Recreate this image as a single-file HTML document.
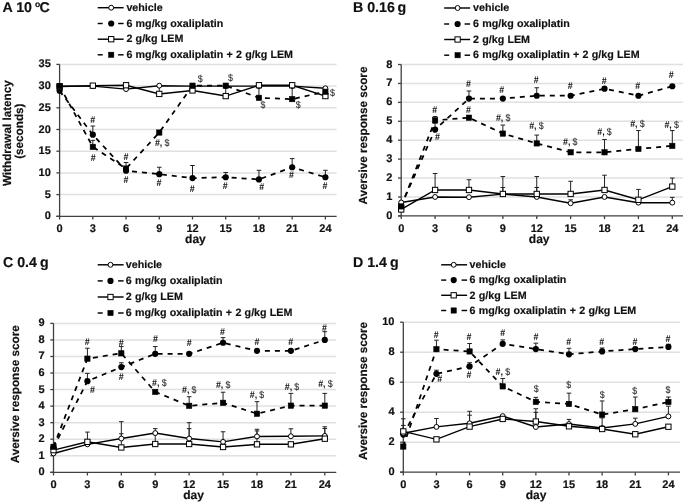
<!DOCTYPE html>
<html><head><meta charset="utf-8"><title>figure</title>
<style>
html,body{margin:0;padding:0;background:#fff;}
body{width:685px;height:504px;overflow:hidden;font-family:"Liberation Sans",sans-serif;}
svg{display:block;will-change:transform;text-rendering:geometricPrecision;}
</style></head>
<body>
<svg width="685" height="504" viewBox="0 0 685 504">
<rect width="685" height="504" fill="#fff"/>
<g stroke="#e0e0e0" stroke-width="1.5"><line x1="59.6" y1="194.6" x2="336.6" y2="194.6"/><line x1="59.6" y1="172.9" x2="336.6" y2="172.9"/><line x1="59.6" y1="151.2" x2="336.6" y2="151.2"/><line x1="59.6" y1="129.5" x2="336.6" y2="129.5"/><line x1="59.6" y1="107.8" x2="336.6" y2="107.8"/><line x1="59.6" y1="86.1" x2="336.6" y2="86.1"/><line x1="59.6" y1="64.4" x2="336.6" y2="64.4"/></g>
<g stroke="#404040" stroke-width="1.3"><line x1="59.6" y1="64.4" x2="59.6" y2="219.5"/><line x1="56.4" y1="216.3" x2="336.6" y2="216.3"/><line x1="56.4" y1="216.3" x2="59.6" y2="216.3"/><line x1="56.4" y1="194.6" x2="59.6" y2="194.6"/><line x1="56.4" y1="172.9" x2="59.6" y2="172.9"/><line x1="56.4" y1="151.2" x2="59.6" y2="151.2"/><line x1="56.4" y1="129.5" x2="59.6" y2="129.5"/><line x1="56.4" y1="107.8" x2="59.6" y2="107.8"/><line x1="56.4" y1="86.1" x2="59.6" y2="86.1"/><line x1="56.4" y1="64.4" x2="59.6" y2="64.4"/><line x1="92.82" y1="216.3" x2="92.82" y2="219.5"/><line x1="126.05" y1="216.3" x2="126.05" y2="219.5"/><line x1="159.27" y1="216.3" x2="159.27" y2="219.5"/><line x1="192.5" y1="216.3" x2="192.5" y2="219.5"/><line x1="225.72" y1="216.3" x2="225.72" y2="219.5"/><line x1="258.95" y1="216.3" x2="258.95" y2="219.5"/><line x1="292.17" y1="216.3" x2="292.17" y2="219.5"/><line x1="325.4" y1="216.3" x2="325.4" y2="219.5"/></g>
<g font-family="Liberation Sans, sans-serif" font-weight="bold" stroke="#111" stroke-width="0.18" font-size="11.0" fill="#111"><text x="50.8" y="219.3" text-anchor="end">0</text><text x="50.8" y="197.6" text-anchor="end">5</text><text x="50.8" y="175.9" text-anchor="end">10</text><text x="50.8" y="154.2" text-anchor="end">15</text><text x="50.8" y="132.5" text-anchor="end">20</text><text x="50.8" y="110.8" text-anchor="end">25</text><text x="50.8" y="89.1" text-anchor="end">30</text><text x="50.8" y="67.4" text-anchor="end">35</text><text x="59.6" y="232.3" text-anchor="middle">0</text><text x="92.82" y="232.3" text-anchor="middle">3</text><text x="126.05" y="232.3" text-anchor="middle">6</text><text x="159.27" y="232.3" text-anchor="middle">9</text><text x="192.5" y="232.3" text-anchor="middle">12</text><text x="225.72" y="232.3" text-anchor="middle">15</text><text x="258.95" y="232.3" text-anchor="middle">18</text><text x="292.17" y="232.3" text-anchor="middle">21</text><text x="325.4" y="232.3" text-anchor="middle">24</text></g>
<text font-family="Liberation Sans, sans-serif" font-weight="bold" stroke="#111" stroke-width="0.18" font-size="12.0" fill="#111" x="195.4" y="243.3" text-anchor="middle">day</text>
<text font-family="Liberation Sans, sans-serif" font-weight="bold" stroke="#111" stroke-width="0.18" font-size="11.7" fill="#111" transform="translate(10.6 133.2) rotate(-90)" text-anchor="middle">Withdrawal latency</text>
<text font-family="Liberation Sans, sans-serif" font-weight="bold" stroke="#111" stroke-width="0.18" font-size="11.7" fill="#111" transform="translate(23.4 131.2) rotate(-90)" text-anchor="middle">(seconds)</text>
<text font-family="Liberation Sans, sans-serif" font-weight="bold" stroke="#111" stroke-width="0.18" font-size="14.2" fill="#111" x="2.5" y="11.8">A 10<tspan font-size="8.6" x="35.1" y="6.6">o</tspan><tspan x="39.4" y="11.8">C</tspan></text>
<g stroke="#222" stroke-width="1"><line x1="159.27" y1="93.91" x2="159.27" y2="85.67"/><line x1="156.97" y1="85.67" x2="161.57" y2="85.67"/><line x1="225.72" y1="96.08" x2="225.72" y2="85.67"/><line x1="223.42" y1="85.67" x2="228.02" y2="85.67"/><line x1="92.82" y1="134.71" x2="92.82" y2="126.03"/><line x1="90.52" y1="126.03" x2="95.12" y2="126.03"/><line x1="126.05" y1="170.73" x2="126.05" y2="162.48"/><line x1="123.75" y1="162.48" x2="128.35" y2="162.48"/><line x1="159.27" y1="174.2" x2="159.27" y2="167.26"/><line x1="156.97" y1="167.26" x2="161.57" y2="167.26"/><line x1="192.5" y1="178.11" x2="192.5" y2="165.52"/><line x1="190.2" y1="165.52" x2="194.8" y2="165.52"/><line x1="225.72" y1="177.24" x2="225.72" y2="172.47"/><line x1="223.42" y1="172.47" x2="228.02" y2="172.47"/><line x1="258.95" y1="179.41" x2="258.95" y2="170.3"/><line x1="256.65" y1="170.3" x2="261.25" y2="170.3"/><line x1="292.17" y1="167.26" x2="292.17" y2="158.58"/><line x1="289.87" y1="158.58" x2="294.47" y2="158.58"/><line x1="325.4" y1="177.24" x2="325.4" y2="170.3"/><line x1="323.1" y1="170.3" x2="327.7" y2="170.3"/><line x1="92.82" y1="146.86" x2="92.82" y2="140.35"/><line x1="90.52" y1="140.35" x2="95.12" y2="140.35"/><line x1="258.95" y1="97.82" x2="258.95" y2="86.1"/><line x1="256.65" y1="86.1" x2="261.25" y2="86.1"/><line x1="292.17" y1="99.12" x2="292.17" y2="86.1"/><line x1="289.87" y1="86.1" x2="294.47" y2="86.1"/></g>
<polyline fill="none" stroke="#000" stroke-width="1.75" stroke-dasharray="5 5" points="59.6,90.87 92.82,134.71 126.05,170.73 159.27,174.2 192.5,178.11 225.72,177.24 258.95,179.41 292.17,167.26 325.4,177.24"/>
<polyline fill="none" stroke="#000" stroke-width="1.75" stroke-dasharray="5 5" points="59.6,86.1 92.82,146.86 126.05,168.56 159.27,132.54 192.5,85.67 225.72,85.67 258.95,97.82 292.17,99.12 325.4,91.74"/>
<polyline fill="none" stroke="#000" stroke-width="1.45" points="59.6,86.1 92.82,86.1 126.05,89.14 159.27,85.67 192.5,86.1 225.72,86.1 258.95,86.1 292.17,86.1 325.4,88.27"/>
<polyline fill="none" stroke="#000" stroke-width="1.45" points="59.6,86.53 92.82,85.67 126.05,85.23 159.27,93.91 192.5,90.44 225.72,96.08 258.95,85.23 292.17,85.23 325.4,96.08"/>
<g fill="#000" stroke="none"><circle cx="59.6" cy="90.87" r="3.1"/><circle cx="92.82" cy="134.71" r="3.1"/><circle cx="126.05" cy="170.73" r="3.1"/><circle cx="159.27" cy="174.2" r="3.1"/><circle cx="192.5" cy="178.11" r="3.1"/><circle cx="225.72" cy="177.24" r="3.1"/><circle cx="258.95" cy="179.41" r="3.1"/><circle cx="292.17" cy="167.26" r="3.1"/><circle cx="325.4" cy="177.24" r="3.1"/></g>
<g fill="#fff" stroke="#000" stroke-width="1"><circle cx="59.6" cy="86.1" r="2.45"/><circle cx="92.82" cy="86.1" r="2.45"/><circle cx="126.05" cy="89.14" r="2.45"/><circle cx="159.27" cy="85.67" r="2.45"/><circle cx="192.5" cy="86.1" r="2.45"/><circle cx="225.72" cy="86.1" r="2.45"/><circle cx="258.95" cy="86.1" r="2.45"/><circle cx="292.17" cy="86.1" r="2.45"/><circle cx="325.4" cy="88.27" r="2.45"/></g>
<g fill="#fff" stroke="#000" stroke-width="1"><rect x="56.95" y="83.88" width="5.3" height="5.3"/><rect x="90.17" y="83.02" width="5.3" height="5.3"/><rect x="123.4" y="82.58" width="5.3" height="5.3"/><rect x="156.62" y="91.26" width="5.3" height="5.3"/><rect x="189.85" y="87.79" width="5.3" height="5.3"/><rect x="223.07" y="93.43" width="5.3" height="5.3"/><rect x="256.3" y="82.58" width="5.3" height="5.3"/><rect x="289.52" y="82.58" width="5.3" height="5.3"/><rect x="322.75" y="93.43" width="5.3" height="5.3"/></g>
<g fill="#000" stroke="#000" stroke-width="0.6"><rect x="56.95" y="83.45" width="5.3" height="5.3"/><rect x="90.17" y="144.21" width="5.3" height="5.3"/><rect x="123.4" y="165.91" width="5.3" height="5.3"/><rect x="156.62" y="129.89" width="5.3" height="5.3"/><rect x="189.85" y="83.02" width="5.3" height="5.3"/><rect x="223.07" y="83.02" width="5.3" height="5.3"/><rect x="256.3" y="95.17" width="5.3" height="5.3"/><rect x="289.52" y="96.47" width="5.3" height="5.3"/><rect x="322.75" y="89.09" width="5.3" height="5.3"/></g>
<g font-family="Liberation Sans, sans-serif" font-size="9.8" font-weight="bold" fill="#111"><text transform="translate(92.7 123.2) scale(0.9 1)" text-anchor="middle">#</text><text transform="translate(93.1 161.2) scale(0.9 1)" text-anchor="middle">#</text><text transform="translate(126 159.6) scale(0.9 1)" text-anchor="middle">#</text><text transform="translate(126 182.6) scale(0.9 1)" text-anchor="middle">#</text><text transform="translate(154.9 146.1) scale(0.9 1)" text-anchor="start">#,<tspan dx="-0.3"> </tspan><tspan fill="#333" font-weight="normal" stroke="#333" stroke-width="0.15">$</tspan></text><text transform="translate(159 186) scale(0.9 1)" text-anchor="middle">#</text><text transform="translate(197.7 82) scale(0.9 1)" text-anchor="start"><tspan fill="#333" font-weight="normal" stroke="#333" stroke-width="0.15">$</tspan></text><text transform="translate(192.3 191.9) scale(0.9 1)" text-anchor="middle">#</text><text transform="translate(228 80.7) scale(0.9 1)" text-anchor="start"><tspan fill="#333" font-weight="normal" stroke="#333" stroke-width="0.15">$</tspan></text><text transform="translate(225.2 188.5) scale(0.9 1)" text-anchor="middle">#</text><text transform="translate(260.5 108.1) scale(0.9 1)" text-anchor="start"><tspan fill="#333" font-weight="normal" stroke="#333" stroke-width="0.15">$</tspan></text><text transform="translate(261.6 189.9) scale(0.9 1)" text-anchor="middle">#</text><text transform="translate(295.7 108.1) scale(0.9 1)" text-anchor="start"><tspan fill="#333" font-weight="normal" stroke="#333" stroke-width="0.15">$</tspan></text><text transform="translate(291.4 177.9) scale(0.9 1)" text-anchor="middle">#</text><text transform="translate(330 95.6) scale(0.9 1)" text-anchor="start"><tspan fill="#333" font-weight="normal" stroke="#333" stroke-width="0.15">$</tspan></text><text transform="translate(325 189.2) scale(0.9 1)" text-anchor="middle">#</text></g>
<line x1="97.7" y1="7.7" x2="123.6" y2="7.7" stroke="#000" stroke-width="1.45"/><circle cx="111.2" cy="7.7" r="2.45" fill="#fff" stroke="#000" stroke-width="1"/><text font-family="Liberation Sans, sans-serif" font-weight="bold" stroke="#111" stroke-width="0.18" font-size="10.7" word-spacing="0.3" fill="#111" x="126.4" y="10.9">vehicle</text><line x1="97.7" y1="23.5" x2="102.7" y2="23.5" stroke="#000" stroke-width="1.45"/><line x1="118.1" y1="23.5" x2="123.6" y2="23.5" stroke="#000" stroke-width="1.45"/><circle cx="111.2" cy="23.5" r="3.1" fill="#000"/><text font-family="Liberation Sans, sans-serif" font-weight="bold" stroke="#111" stroke-width="0.18" font-size="10.7" word-spacing="0.3" fill="#111" x="126.4" y="26.7">6 mg/kg oxaliplatin</text><line x1="97.7" y1="39.2" x2="123.6" y2="39.2" stroke="#000" stroke-width="1.45"/><rect x="108.55" y="36.55" width="5.3" height="5.3" fill="#fff" stroke="#000" stroke-width="1"/><text font-family="Liberation Sans, sans-serif" font-weight="bold" stroke="#111" stroke-width="0.18" font-size="10.7" word-spacing="0.3" fill="#111" x="126.4" y="42.4">2 g/kg LEM</text><line x1="97.7" y1="54.8" x2="102.7" y2="54.8" stroke="#000" stroke-width="1.45"/><line x1="118.1" y1="54.8" x2="123.6" y2="54.8" stroke="#000" stroke-width="1.45"/><rect x="108.55" y="52.15" width="5.3" height="5.3" fill="#000" stroke="#000" stroke-width="0.5"/><text font-family="Liberation Sans, sans-serif" font-weight="bold" stroke="#111" stroke-width="0.18" font-size="10.7" word-spacing="0.3" fill="#111" x="126.4" y="58">6 mg/kg oxaliplatin + 2 g/kg LEM</text>
<g stroke="#e0e0e0" stroke-width="1.5"><line x1="401.2" y1="196.97" x2="683" y2="196.97"/><line x1="401.2" y1="178.05" x2="683" y2="178.05"/><line x1="401.2" y1="159.12" x2="683" y2="159.12"/><line x1="401.2" y1="140.2" x2="683" y2="140.2"/><line x1="401.2" y1="121.28" x2="683" y2="121.28"/><line x1="401.2" y1="102.35" x2="683" y2="102.35"/><line x1="401.2" y1="83.43" x2="683" y2="83.43"/><line x1="401.2" y1="64.5" x2="683" y2="64.5"/></g>
<g stroke="#404040" stroke-width="1.3"><line x1="401.2" y1="64.5" x2="401.2" y2="219.1"/><line x1="398" y1="215.9" x2="683" y2="215.9"/><line x1="398" y1="215.9" x2="401.2" y2="215.9"/><line x1="398" y1="196.97" x2="401.2" y2="196.97"/><line x1="398" y1="178.05" x2="401.2" y2="178.05"/><line x1="398" y1="159.12" x2="401.2" y2="159.12"/><line x1="398" y1="140.2" x2="401.2" y2="140.2"/><line x1="398" y1="121.28" x2="401.2" y2="121.28"/><line x1="398" y1="102.35" x2="401.2" y2="102.35"/><line x1="398" y1="83.43" x2="401.2" y2="83.43"/><line x1="398" y1="64.5" x2="401.2" y2="64.5"/><line x1="435.09" y1="215.9" x2="435.09" y2="219.1"/><line x1="468.97" y1="215.9" x2="468.97" y2="219.1"/><line x1="502.86" y1="215.9" x2="502.86" y2="219.1"/><line x1="536.75" y1="215.9" x2="536.75" y2="219.1"/><line x1="570.64" y1="215.9" x2="570.64" y2="219.1"/><line x1="604.52" y1="215.9" x2="604.52" y2="219.1"/><line x1="638.41" y1="215.9" x2="638.41" y2="219.1"/><line x1="672.3" y1="215.9" x2="672.3" y2="219.1"/></g>
<g font-family="Liberation Sans, sans-serif" font-weight="bold" stroke="#111" stroke-width="0.18" font-size="11.0" fill="#111"><text x="392.4" y="218.9" text-anchor="end">0</text><text x="392.4" y="199.97" text-anchor="end">1</text><text x="392.4" y="181.05" text-anchor="end">2</text><text x="392.4" y="162.12" text-anchor="end">3</text><text x="392.4" y="143.2" text-anchor="end">4</text><text x="392.4" y="124.28" text-anchor="end">5</text><text x="392.4" y="105.35" text-anchor="end">6</text><text x="392.4" y="86.43" text-anchor="end">7</text><text x="392.4" y="67.5" text-anchor="end">8</text><text x="401.2" y="231.9" text-anchor="middle">0</text><text x="435.09" y="231.9" text-anchor="middle">3</text><text x="468.97" y="231.9" text-anchor="middle">6</text><text x="502.86" y="231.9" text-anchor="middle">9</text><text x="536.75" y="231.9" text-anchor="middle">12</text><text x="570.64" y="231.9" text-anchor="middle">15</text><text x="604.52" y="231.9" text-anchor="middle">18</text><text x="638.41" y="231.9" text-anchor="middle">21</text><text x="672.3" y="231.9" text-anchor="middle">24</text></g>
<text font-family="Liberation Sans, sans-serif" font-weight="bold" stroke="#111" stroke-width="0.18" font-size="12.0" fill="#111" x="539.2" y="243.3" text-anchor="middle">day</text>
<text font-family="Liberation Sans, sans-serif" font-weight="bold" stroke="#111" stroke-width="0.18" font-size="11.7" fill="#111" transform="translate(367.3 135.6) rotate(-90)" text-anchor="middle">Aversive response score</text>
<text font-family="Liberation Sans, sans-serif" font-weight="bold" stroke="#111" stroke-width="0.18" font-size="14.2" fill="#111" x="353" y="11.8">B 0.16<tspan dx="-1.2"> g</tspan></text>
<g stroke="#222" stroke-width="1"><line x1="502.86" y1="194.14" x2="502.86" y2="187.51"/><line x1="500.56" y1="187.51" x2="505.16" y2="187.51"/><line x1="536.75" y1="196.97" x2="536.75" y2="187.51"/><line x1="534.45" y1="187.51" x2="539.05" y2="187.51"/><line x1="570.64" y1="203.22" x2="570.64" y2="199.81"/><line x1="568.34" y1="199.81" x2="572.94" y2="199.81"/><line x1="672.3" y1="202.65" x2="672.3" y2="197.35"/><line x1="670" y1="197.35" x2="674.6" y2="197.35"/><line x1="435.09" y1="189.97" x2="435.09" y2="173.51"/><line x1="432.79" y1="173.51" x2="437.39" y2="173.51"/><line x1="468.97" y1="189.97" x2="468.97" y2="179.75"/><line x1="466.67" y1="179.75" x2="471.27" y2="179.75"/><line x1="502.86" y1="193.95" x2="502.86" y2="176.54"/><line x1="500.56" y1="176.54" x2="505.16" y2="176.54"/><line x1="536.75" y1="193.95" x2="536.75" y2="176.54"/><line x1="534.45" y1="176.54" x2="539.05" y2="176.54"/><line x1="570.64" y1="193.95" x2="570.64" y2="181.27"/><line x1="568.34" y1="181.27" x2="572.94" y2="181.27"/><line x1="604.52" y1="189.97" x2="604.52" y2="175.21"/><line x1="602.23" y1="175.21" x2="606.82" y2="175.21"/><line x1="638.41" y1="199.81" x2="638.41" y2="189.41"/><line x1="636.11" y1="189.41" x2="640.71" y2="189.41"/><line x1="672.3" y1="186.57" x2="672.3" y2="178.05"/><line x1="670" y1="178.05" x2="674.6" y2="178.05"/><line x1="435.09" y1="129.6" x2="435.09" y2="123.17"/><line x1="432.79" y1="123.17" x2="437.39" y2="123.17"/><line x1="468.97" y1="98.56" x2="468.97" y2="91"/><line x1="466.67" y1="91" x2="471.27" y2="91"/><line x1="536.75" y1="95.73" x2="536.75" y2="87.78"/><line x1="534.45" y1="87.78" x2="539.05" y2="87.78"/><line x1="435.09" y1="120.33" x2="435.09" y2="116.54"/><line x1="432.79" y1="116.54" x2="437.39" y2="116.54"/><line x1="502.86" y1="133.58" x2="502.86" y2="125.06"/><line x1="500.56" y1="125.06" x2="505.16" y2="125.06"/><line x1="536.75" y1="143.42" x2="536.75" y2="135.09"/><line x1="534.45" y1="135.09" x2="539.05" y2="135.09"/><line x1="604.52" y1="152.31" x2="604.52" y2="139.44"/><line x1="602.23" y1="139.44" x2="606.82" y2="139.44"/><line x1="638.41" y1="148.91" x2="638.41" y2="130.55"/><line x1="636.11" y1="130.55" x2="640.71" y2="130.55"/><line x1="672.3" y1="145.88" x2="672.3" y2="130.55"/><line x1="670" y1="130.55" x2="674.6" y2="130.55"/></g>
<polyline fill="none" stroke="#000" stroke-width="1.75" stroke-dasharray="5 5" points="401.2,205.49 435.09,129.6 468.97,98.56 502.86,98.56 536.75,95.73 570.64,95.73 604.52,88.72 638.41,95.73 672.3,86.26"/>
<polyline fill="none" stroke="#000" stroke-width="1.75" stroke-dasharray="5 5" points="401.2,206.44 435.09,120.33 468.97,117.68 502.86,133.58 536.75,143.42 570.64,152.31 604.52,152.31 638.41,148.91 672.3,145.88"/>
<polyline fill="none" stroke="#000" stroke-width="1.45" points="401.2,202.46 435.09,196.97 468.97,197.16 502.86,194.14 536.75,196.97 570.64,203.22 604.52,196.97 638.41,202.65 672.3,202.65"/>
<polyline fill="none" stroke="#000" stroke-width="1.45" points="401.2,209.47 435.09,189.97 468.97,189.97 502.86,193.95 536.75,193.95 570.64,193.95 604.52,189.97 638.41,199.81 672.3,186.57"/>
<g fill="#000" stroke="none"><circle cx="401.2" cy="205.49" r="3.1"/><circle cx="435.09" cy="129.6" r="3.1"/><circle cx="468.97" cy="98.56" r="3.1"/><circle cx="502.86" cy="98.56" r="3.1"/><circle cx="536.75" cy="95.73" r="3.1"/><circle cx="570.64" cy="95.73" r="3.1"/><circle cx="604.52" cy="88.72" r="3.1"/><circle cx="638.41" cy="95.73" r="3.1"/><circle cx="672.3" cy="86.26" r="3.1"/></g>
<g fill="#fff" stroke="#000" stroke-width="1"><circle cx="401.2" cy="202.46" r="2.45"/><circle cx="435.09" cy="196.97" r="2.45"/><circle cx="468.97" cy="197.16" r="2.45"/><circle cx="502.86" cy="194.14" r="2.45"/><circle cx="536.75" cy="196.97" r="2.45"/><circle cx="570.64" cy="203.22" r="2.45"/><circle cx="604.52" cy="196.97" r="2.45"/><circle cx="638.41" cy="202.65" r="2.45"/><circle cx="672.3" cy="202.65" r="2.45"/></g>
<g fill="#fff" stroke="#000" stroke-width="1"><rect x="398.55" y="206.82" width="5.3" height="5.3"/><rect x="432.44" y="187.32" width="5.3" height="5.3"/><rect x="466.32" y="187.32" width="5.3" height="5.3"/><rect x="500.21" y="191.3" width="5.3" height="5.3"/><rect x="534.1" y="191.3" width="5.3" height="5.3"/><rect x="567.99" y="191.3" width="5.3" height="5.3"/><rect x="601.88" y="187.32" width="5.3" height="5.3"/><rect x="635.76" y="197.16" width="5.3" height="5.3"/><rect x="669.65" y="183.92" width="5.3" height="5.3"/></g>
<g fill="#000" stroke="#000" stroke-width="0.6"><rect x="398.55" y="203.79" width="5.3" height="5.3"/><rect x="432.44" y="117.68" width="5.3" height="5.3"/><rect x="466.32" y="115.03" width="5.3" height="5.3"/><rect x="500.21" y="130.93" width="5.3" height="5.3"/><rect x="534.1" y="140.77" width="5.3" height="5.3"/><rect x="567.99" y="149.66" width="5.3" height="5.3"/><rect x="601.88" y="149.66" width="5.3" height="5.3"/><rect x="635.76" y="146.26" width="5.3" height="5.3"/><rect x="669.65" y="143.23" width="5.3" height="5.3"/></g>
<g font-family="Liberation Sans, sans-serif" font-size="9.8" font-weight="bold" fill="#111"><text transform="translate(434.7 112.5) scale(0.9 1)" text-anchor="middle">#</text><text transform="translate(437.5 140.3) scale(0.9 1)" text-anchor="middle">#</text><text transform="translate(468.4 86.7) scale(0.9 1)" text-anchor="middle">#</text><text transform="translate(468.4 112.5) scale(0.9 1)" text-anchor="middle">#</text><text transform="translate(501.8 92.6) scale(0.9 1)" text-anchor="middle">#</text><text transform="translate(495.9 121.4) scale(0.9 1)" text-anchor="start">#,<tspan dx="-0.3"> </tspan><tspan fill="#333" font-weight="normal" stroke="#333" stroke-width="0.15">$</tspan></text><text transform="translate(536.2 83.3) scale(0.9 1)" text-anchor="middle">#</text><text transform="translate(529.2 129.3) scale(0.9 1)" text-anchor="start">#,<tspan dx="-0.3"> </tspan><tspan fill="#333" font-weight="normal" stroke="#333" stroke-width="0.15">$</tspan></text><text transform="translate(570.3 89.3) scale(0.9 1)" text-anchor="middle">#</text><text transform="translate(563 145.2) scale(0.9 1)" text-anchor="start">#,<tspan dx="-0.3"> </tspan><tspan fill="#333" font-weight="normal" stroke="#333" stroke-width="0.15">$</tspan></text><text transform="translate(604.2 83.7) scale(0.9 1)" text-anchor="middle">#</text><text transform="translate(597.3 135.3) scale(0.9 1)" text-anchor="start">#,<tspan dx="-0.3"> </tspan><tspan fill="#333" font-weight="normal" stroke="#333" stroke-width="0.15">$</tspan></text><text transform="translate(637.6 89.3) scale(0.9 1)" text-anchor="middle">#</text><text transform="translate(630.2 126.9) scale(0.9 1)" text-anchor="start">#,<tspan dx="-0.3"> </tspan><tspan fill="#333" font-weight="normal" stroke="#333" stroke-width="0.15">$</tspan></text><text transform="translate(671.3 77.8) scale(0.9 1)" text-anchor="middle">#</text><text transform="translate(664.4 128.4) scale(0.9 1)" text-anchor="start">#,<tspan dx="-0.3"> </tspan><tspan fill="#333" font-weight="normal" stroke="#333" stroke-width="0.15">$</tspan></text></g>
<line x1="444.2" y1="8" x2="470.1" y2="8" stroke="#000" stroke-width="1.45"/><circle cx="457.6" cy="8" r="2.45" fill="#fff" stroke="#000" stroke-width="1"/><text font-family="Liberation Sans, sans-serif" font-weight="bold" stroke="#111" stroke-width="0.18" font-size="10.7" word-spacing="0.3" fill="#111" x="473" y="11.2">vehicle</text><line x1="444.2" y1="24" x2="449.2" y2="24" stroke="#000" stroke-width="1.45"/><line x1="464.6" y1="24" x2="470.1" y2="24" stroke="#000" stroke-width="1.45"/><circle cx="457.6" cy="24" r="3.1" fill="#000"/><text font-family="Liberation Sans, sans-serif" font-weight="bold" stroke="#111" stroke-width="0.18" font-size="10.7" word-spacing="0.3" fill="#111" x="473" y="27.2">6 mg/kg oxaliplatin</text><line x1="444.2" y1="39.5" x2="470.1" y2="39.5" stroke="#000" stroke-width="1.45"/><rect x="454.95" y="36.85" width="5.3" height="5.3" fill="#fff" stroke="#000" stroke-width="1"/><text font-family="Liberation Sans, sans-serif" font-weight="bold" stroke="#111" stroke-width="0.18" font-size="10.7" word-spacing="0.3" fill="#111" x="473" y="42.7">2 g/kg LEM</text><line x1="444.2" y1="55.2" x2="449.2" y2="55.2" stroke="#000" stroke-width="1.45"/><line x1="464.6" y1="55.2" x2="470.1" y2="55.2" stroke="#000" stroke-width="1.45"/><rect x="454.95" y="52.55" width="5.3" height="5.3" fill="#000" stroke="#000" stroke-width="0.5"/><text font-family="Liberation Sans, sans-serif" font-weight="bold" stroke="#111" stroke-width="0.18" font-size="10.7" word-spacing="0.3" fill="#111" x="473" y="58.4">6 mg/kg oxaliplatin + 2 g/kg LEM</text>
<g stroke="#e0e0e0" stroke-width="1.5"><line x1="53.5" y1="455.76" x2="336.3" y2="455.76"/><line x1="53.5" y1="439.21" x2="336.3" y2="439.21"/><line x1="53.5" y1="422.67" x2="336.3" y2="422.67"/><line x1="53.5" y1="406.12" x2="336.3" y2="406.12"/><line x1="53.5" y1="389.58" x2="336.3" y2="389.58"/><line x1="53.5" y1="373.03" x2="336.3" y2="373.03"/><line x1="53.5" y1="356.49" x2="336.3" y2="356.49"/><line x1="53.5" y1="339.94" x2="336.3" y2="339.94"/><line x1="53.5" y1="323.4" x2="336.3" y2="323.4"/></g>
<g stroke="#404040" stroke-width="1.3"><line x1="53.5" y1="323.4" x2="53.5" y2="475.5"/><line x1="50.3" y1="472.3" x2="336.3" y2="472.3"/><line x1="50.3" y1="472.3" x2="53.5" y2="472.3"/><line x1="50.3" y1="455.76" x2="53.5" y2="455.76"/><line x1="50.3" y1="439.21" x2="53.5" y2="439.21"/><line x1="50.3" y1="422.67" x2="53.5" y2="422.67"/><line x1="50.3" y1="406.12" x2="53.5" y2="406.12"/><line x1="50.3" y1="389.58" x2="53.5" y2="389.58"/><line x1="50.3" y1="373.03" x2="53.5" y2="373.03"/><line x1="50.3" y1="356.49" x2="53.5" y2="356.49"/><line x1="50.3" y1="339.94" x2="53.5" y2="339.94"/><line x1="50.3" y1="323.4" x2="53.5" y2="323.4"/><line x1="87.41" y1="472.3" x2="87.41" y2="475.5"/><line x1="121.33" y1="472.3" x2="121.33" y2="475.5"/><line x1="155.24" y1="472.3" x2="155.24" y2="475.5"/><line x1="189.15" y1="472.3" x2="189.15" y2="475.5"/><line x1="223.06" y1="472.3" x2="223.06" y2="475.5"/><line x1="256.98" y1="472.3" x2="256.98" y2="475.5"/><line x1="290.89" y1="472.3" x2="290.89" y2="475.5"/><line x1="324.8" y1="472.3" x2="324.8" y2="475.5"/></g>
<g font-family="Liberation Sans, sans-serif" font-weight="bold" stroke="#111" stroke-width="0.18" font-size="11.0" fill="#111"><text x="44.7" y="475.3" text-anchor="end">0</text><text x="44.7" y="458.76" text-anchor="end">1</text><text x="44.7" y="442.21" text-anchor="end">2</text><text x="44.7" y="425.67" text-anchor="end">3</text><text x="44.7" y="409.12" text-anchor="end">4</text><text x="44.7" y="392.58" text-anchor="end">5</text><text x="44.7" y="376.03" text-anchor="end">6</text><text x="44.7" y="359.49" text-anchor="end">7</text><text x="44.7" y="342.94" text-anchor="end">8</text><text x="44.7" y="326.4" text-anchor="end">9</text><text x="53.5" y="488.3" text-anchor="middle">0</text><text x="87.41" y="488.3" text-anchor="middle">3</text><text x="121.33" y="488.3" text-anchor="middle">6</text><text x="155.24" y="488.3" text-anchor="middle">9</text><text x="189.15" y="488.3" text-anchor="middle">12</text><text x="223.06" y="488.3" text-anchor="middle">15</text><text x="256.98" y="488.3" text-anchor="middle">18</text><text x="290.89" y="488.3" text-anchor="middle">21</text><text x="324.8" y="488.3" text-anchor="middle">24</text></g>
<text font-family="Liberation Sans, sans-serif" font-weight="bold" stroke="#111" stroke-width="0.18" font-size="12.0" fill="#111" x="193.6" y="499" text-anchor="middle">day</text>
<text font-family="Liberation Sans, sans-serif" font-weight="bold" stroke="#111" stroke-width="0.18" font-size="11.7" fill="#111" transform="translate(19.3 394.3) rotate(-90)" text-anchor="middle">Aversive response score</text>
<text font-family="Liberation Sans, sans-serif" font-weight="bold" stroke="#111" stroke-width="0.18" font-size="14.2" fill="#111" x="3" y="267">C 0.4<tspan dx="-0.8"> g</tspan></text>
<g stroke="#222" stroke-width="1"><line x1="121.33" y1="438.55" x2="121.33" y2="421.67"/><line x1="119.03" y1="421.67" x2="123.62" y2="421.67"/><line x1="155.24" y1="433.09" x2="155.24" y2="428.62"/><line x1="152.94" y1="428.62" x2="157.54" y2="428.62"/><line x1="189.15" y1="438.55" x2="189.15" y2="422.67"/><line x1="186.85" y1="422.67" x2="191.45" y2="422.67"/><line x1="223.06" y1="441.86" x2="223.06" y2="431.77"/><line x1="220.76" y1="431.77" x2="225.36" y2="431.77"/><line x1="256.98" y1="436.4" x2="256.98" y2="429.28"/><line x1="254.68" y1="429.28" x2="259.28" y2="429.28"/><line x1="290.89" y1="436.23" x2="290.89" y2="428.79"/><line x1="288.59" y1="428.79" x2="293.19" y2="428.79"/><line x1="324.8" y1="435.9" x2="324.8" y2="426.8"/><line x1="322.5" y1="426.8" x2="327.1" y2="426.8"/><line x1="87.41" y1="441.86" x2="87.41" y2="432.1"/><line x1="85.11" y1="432.1" x2="89.71" y2="432.1"/><line x1="121.33" y1="447.48" x2="121.33" y2="433.75"/><line x1="119.03" y1="433.75" x2="123.62" y2="433.75"/><line x1="155.24" y1="444.01" x2="155.24" y2="433.09"/><line x1="152.94" y1="433.09" x2="157.54" y2="433.09"/><line x1="189.15" y1="444.01" x2="189.15" y2="428.62"/><line x1="186.85" y1="428.62" x2="191.45" y2="428.62"/><line x1="256.98" y1="444.34" x2="256.98" y2="430.94"/><line x1="254.68" y1="430.94" x2="259.28" y2="430.94"/><line x1="324.8" y1="438.71" x2="324.8" y2="428.46"/><line x1="322.5" y1="428.46" x2="327.1" y2="428.46"/><line x1="87.41" y1="381.14" x2="87.41" y2="373.36"/><line x1="85.11" y1="373.36" x2="89.71" y2="373.36"/><line x1="121.33" y1="367.08" x2="121.33" y2="362.78"/><line x1="119.03" y1="362.78" x2="123.62" y2="362.78"/><line x1="155.24" y1="353.84" x2="155.24" y2="346.56"/><line x1="152.94" y1="346.56" x2="157.54" y2="346.56"/><line x1="223.06" y1="342.76" x2="223.06" y2="337.63"/><line x1="220.76" y1="337.63" x2="225.36" y2="337.63"/><line x1="324.8" y1="339.94" x2="324.8" y2="331.67"/><line x1="322.5" y1="331.67" x2="327.1" y2="331.67"/><line x1="87.41" y1="358.64" x2="87.41" y2="348.22"/><line x1="85.11" y1="348.22" x2="89.71" y2="348.22"/><line x1="121.33" y1="353.35" x2="121.33" y2="346.56"/><line x1="119.03" y1="346.56" x2="123.62" y2="346.56"/><line x1="189.15" y1="405.79" x2="189.15" y2="396.69"/><line x1="186.85" y1="396.69" x2="191.45" y2="396.69"/><line x1="223.06" y1="402.81" x2="223.06" y2="392.22"/><line x1="220.76" y1="392.22" x2="225.36" y2="392.22"/><line x1="256.98" y1="413.73" x2="256.98" y2="401.66"/><line x1="254.68" y1="401.66" x2="259.28" y2="401.66"/><line x1="290.89" y1="405.63" x2="290.89" y2="393.38"/><line x1="288.59" y1="393.38" x2="293.19" y2="393.38"/><line x1="324.8" y1="405.63" x2="324.8" y2="393.38"/><line x1="322.5" y1="393.38" x2="327.1" y2="393.38"/></g>
<polyline fill="none" stroke="#000" stroke-width="1.75" stroke-dasharray="5 5" points="53.5,447.48 87.41,381.14 121.33,367.08 155.24,353.84 189.15,353.84 223.06,342.76 256.98,350.86 290.89,350.86 324.8,339.94"/>
<polyline fill="none" stroke="#000" stroke-width="1.75" stroke-dasharray="5 5" points="53.5,446.82 87.41,358.64 121.33,353.35 155.24,391.89 189.15,405.79 223.06,402.81 256.98,413.73 290.89,405.63 324.8,405.63"/>
<polyline fill="none" stroke="#000" stroke-width="1.45" points="53.5,453.44 87.41,444.34 121.33,438.55 155.24,433.09 189.15,438.55 223.06,441.86 256.98,436.4 290.89,436.23 324.8,435.9"/>
<polyline fill="none" stroke="#000" stroke-width="1.45" points="53.5,450.13 87.41,441.86 121.33,447.48 155.24,444.01 189.15,444.01 223.06,446.99 256.98,444.34 290.89,444.34 324.8,438.71"/>
<g fill="#000" stroke="none"><circle cx="53.5" cy="447.48" r="3.1"/><circle cx="87.41" cy="381.14" r="3.1"/><circle cx="121.33" cy="367.08" r="3.1"/><circle cx="155.24" cy="353.84" r="3.1"/><circle cx="189.15" cy="353.84" r="3.1"/><circle cx="223.06" cy="342.76" r="3.1"/><circle cx="256.98" cy="350.86" r="3.1"/><circle cx="290.89" cy="350.86" r="3.1"/><circle cx="324.8" cy="339.94" r="3.1"/></g>
<g fill="#fff" stroke="#000" stroke-width="1"><circle cx="53.5" cy="453.44" r="2.45"/><circle cx="87.41" cy="444.34" r="2.45"/><circle cx="121.33" cy="438.55" r="2.45"/><circle cx="155.24" cy="433.09" r="2.45"/><circle cx="189.15" cy="438.55" r="2.45"/><circle cx="223.06" cy="441.86" r="2.45"/><circle cx="256.98" cy="436.4" r="2.45"/><circle cx="290.89" cy="436.23" r="2.45"/><circle cx="324.8" cy="435.9" r="2.45"/></g>
<g fill="#fff" stroke="#000" stroke-width="1"><rect x="50.85" y="447.48" width="5.3" height="5.3"/><rect x="84.76" y="439.21" width="5.3" height="5.3"/><rect x="118.67" y="444.83" width="5.3" height="5.3"/><rect x="152.59" y="441.36" width="5.3" height="5.3"/><rect x="186.5" y="441.36" width="5.3" height="5.3"/><rect x="220.41" y="444.34" width="5.3" height="5.3"/><rect x="254.33" y="441.69" width="5.3" height="5.3"/><rect x="288.24" y="441.69" width="5.3" height="5.3"/><rect x="322.15" y="436.06" width="5.3" height="5.3"/></g>
<g fill="#000" stroke="#000" stroke-width="0.6"><rect x="50.85" y="444.17" width="5.3" height="5.3"/><rect x="84.76" y="355.99" width="5.3" height="5.3"/><rect x="118.67" y="350.7" width="5.3" height="5.3"/><rect x="152.59" y="389.24" width="5.3" height="5.3"/><rect x="186.5" y="403.14" width="5.3" height="5.3"/><rect x="220.41" y="400.16" width="5.3" height="5.3"/><rect x="254.33" y="411.08" width="5.3" height="5.3"/><rect x="288.24" y="402.98" width="5.3" height="5.3"/><rect x="322.15" y="402.98" width="5.3" height="5.3"/></g>
<g font-family="Liberation Sans, sans-serif" font-size="9.8" font-weight="bold" fill="#111"><text transform="translate(87.1 344.7) scale(0.9 1)" text-anchor="middle">#</text><text transform="translate(92.5 392.9) scale(0.9 1)" text-anchor="middle">#</text><text transform="translate(121.1 345.6) scale(0.9 1)" text-anchor="middle">#</text><text transform="translate(121.1 380.4) scale(0.9 1)" text-anchor="middle">#</text><text transform="translate(155.5 342.4) scale(0.9 1)" text-anchor="middle">#</text><text transform="translate(152.1 385.8) scale(0.9 1)" text-anchor="start">#,<tspan dx="-0.3"> </tspan><tspan fill="#333" font-weight="normal" stroke="#333" stroke-width="0.15">$</tspan></text><text transform="translate(189.1 345.6) scale(0.9 1)" text-anchor="middle">#</text><text transform="translate(182 393.3) scale(0.9 1)" text-anchor="start">#,<tspan dx="-0.3"> </tspan><tspan fill="#333" font-weight="normal" stroke="#333" stroke-width="0.15">$</tspan></text><text transform="translate(222.5 335.3) scale(0.9 1)" text-anchor="middle">#</text><text transform="translate(215.9 388.1) scale(0.9 1)" text-anchor="start">#,<tspan dx="-0.3"> </tspan><tspan fill="#333" font-weight="normal" stroke="#333" stroke-width="0.15">$</tspan></text><text transform="translate(257 344.8) scale(0.9 1)" text-anchor="middle">#</text><text transform="translate(249.8 397.7) scale(0.9 1)" text-anchor="start">#,<tspan dx="-0.3"> </tspan><tspan fill="#333" font-weight="normal" stroke="#333" stroke-width="0.15">$</tspan></text><text transform="translate(290.7 344.8) scale(0.9 1)" text-anchor="middle">#</text><text transform="translate(284.8 390.2) scale(0.9 1)" text-anchor="start">#,<tspan dx="-0.3"> </tspan><tspan fill="#333" font-weight="normal" stroke="#333" stroke-width="0.15">$</tspan></text><text transform="translate(324.5 330.6) scale(0.9 1)" text-anchor="middle">#</text><text transform="translate(318.2 386.8) scale(0.9 1)" text-anchor="start">#,<tspan dx="-0.3"> </tspan><tspan fill="#333" font-weight="normal" stroke="#333" stroke-width="0.15">$</tspan></text></g>
<line x1="97.7" y1="264.8" x2="123.6" y2="264.8" stroke="#000" stroke-width="1.45"/><circle cx="110.5" cy="264.8" r="2.45" fill="#fff" stroke="#000" stroke-width="1"/><text font-family="Liberation Sans, sans-serif" font-weight="bold" stroke="#111" stroke-width="0.18" font-size="10.7" word-spacing="0.3" fill="#111" x="125.8" y="268">vehicle</text><line x1="97.7" y1="280.9" x2="102.7" y2="280.9" stroke="#000" stroke-width="1.45"/><line x1="118.1" y1="280.9" x2="123.6" y2="280.9" stroke="#000" stroke-width="1.45"/><circle cx="110.5" cy="280.9" r="3.1" fill="#000"/><text font-family="Liberation Sans, sans-serif" font-weight="bold" stroke="#111" stroke-width="0.18" font-size="10.7" word-spacing="0.3" fill="#111" x="125.8" y="284.1">6 mg/kg oxaliplatin</text><line x1="97.7" y1="297" x2="123.6" y2="297" stroke="#000" stroke-width="1.45"/><rect x="107.85" y="294.35" width="5.3" height="5.3" fill="#fff" stroke="#000" stroke-width="1"/><text font-family="Liberation Sans, sans-serif" font-weight="bold" stroke="#111" stroke-width="0.18" font-size="10.7" word-spacing="0.3" fill="#111" x="125.8" y="300.2">2 g/kg LEM</text><line x1="97.7" y1="313" x2="102.7" y2="313" stroke="#000" stroke-width="1.45"/><line x1="118.1" y1="313" x2="123.6" y2="313" stroke="#000" stroke-width="1.45"/><rect x="107.85" y="310.35" width="5.3" height="5.3" fill="#000" stroke="#000" stroke-width="0.5"/><text font-family="Liberation Sans, sans-serif" font-weight="bold" stroke="#111" stroke-width="0.18" font-size="10.7" word-spacing="0.3" fill="#111" x="125.8" y="316.2">6 mg/kg oxaliplatin + 2 g/kg LEM</text>
<g stroke="#e0e0e0" stroke-width="1.5"><line x1="403.3" y1="442.2" x2="680" y2="442.2"/><line x1="403.3" y1="412.2" x2="680" y2="412.2"/><line x1="403.3" y1="382.2" x2="680" y2="382.2"/><line x1="403.3" y1="352.2" x2="680" y2="352.2"/><line x1="403.3" y1="322.2" x2="680" y2="322.2"/></g>
<g stroke="#404040" stroke-width="1.3"><line x1="403.3" y1="322.2" x2="403.3" y2="475.4"/><line x1="400.1" y1="472.2" x2="680" y2="472.2"/><line x1="400.1" y1="472.2" x2="403.3" y2="472.2"/><line x1="400.1" y1="442.2" x2="403.3" y2="442.2"/><line x1="400.1" y1="412.2" x2="403.3" y2="412.2"/><line x1="400.1" y1="382.2" x2="403.3" y2="382.2"/><line x1="400.1" y1="352.2" x2="403.3" y2="352.2"/><line x1="400.1" y1="322.2" x2="403.3" y2="322.2"/><line x1="436.44" y1="472.2" x2="436.44" y2="475.4"/><line x1="469.57" y1="472.2" x2="469.57" y2="475.4"/><line x1="502.71" y1="472.2" x2="502.71" y2="475.4"/><line x1="535.85" y1="472.2" x2="535.85" y2="475.4"/><line x1="568.99" y1="472.2" x2="568.99" y2="475.4"/><line x1="602.12" y1="472.2" x2="602.12" y2="475.4"/><line x1="635.26" y1="472.2" x2="635.26" y2="475.4"/><line x1="668.4" y1="472.2" x2="668.4" y2="475.4"/></g>
<g font-family="Liberation Sans, sans-serif" font-weight="bold" stroke="#111" stroke-width="0.18" font-size="11.0" fill="#111"><text x="394.5" y="475.2" text-anchor="end">0</text><text x="394.5" y="445.2" text-anchor="end">2</text><text x="394.5" y="415.2" text-anchor="end">4</text><text x="394.5" y="385.2" text-anchor="end">6</text><text x="394.5" y="355.2" text-anchor="end">8</text><text x="394.5" y="325.2" text-anchor="end">10</text><text x="403.3" y="488.2" text-anchor="middle">0</text><text x="436.44" y="488.2" text-anchor="middle">3</text><text x="469.57" y="488.2" text-anchor="middle">6</text><text x="502.71" y="488.2" text-anchor="middle">9</text><text x="535.85" y="488.2" text-anchor="middle">12</text><text x="568.99" y="488.2" text-anchor="middle">15</text><text x="602.12" y="488.2" text-anchor="middle">18</text><text x="635.26" y="488.2" text-anchor="middle">21</text><text x="668.4" y="488.2" text-anchor="middle">24</text></g>
<text font-family="Liberation Sans, sans-serif" font-weight="bold" stroke="#111" stroke-width="0.18" font-size="12.0" fill="#111" x="536" y="499" text-anchor="middle">day</text>
<text font-family="Liberation Sans, sans-serif" font-weight="bold" stroke="#111" stroke-width="0.18" font-size="11.7" fill="#111" transform="translate(367.3 391) rotate(-90)" text-anchor="middle">Aversive response score</text>
<text font-family="Liberation Sans, sans-serif" font-weight="bold" stroke="#111" stroke-width="0.18" font-size="14.2" fill="#111" x="353" y="267">D 1.4<tspan dx="-0.8"> g</tspan></text>
<g stroke="#222" stroke-width="1"><line x1="403.3" y1="433.2" x2="403.3" y2="425.4"/><line x1="401" y1="425.4" x2="405.6" y2="425.4"/><line x1="436.44" y1="426.9" x2="436.44" y2="418.5"/><line x1="434.14" y1="418.5" x2="438.74" y2="418.5"/><line x1="469.57" y1="423.3" x2="469.57" y2="411.3"/><line x1="467.27" y1="411.3" x2="471.88" y2="411.3"/><line x1="535.85" y1="427.05" x2="535.85" y2="412.35"/><line x1="533.55" y1="412.35" x2="538.15" y2="412.35"/><line x1="568.99" y1="424.05" x2="568.99" y2="419.4"/><line x1="566.69" y1="419.4" x2="571.29" y2="419.4"/><line x1="602.12" y1="427.95" x2="602.12" y2="417.9"/><line x1="599.83" y1="417.9" x2="604.42" y2="417.9"/><line x1="635.26" y1="423.9" x2="635.26" y2="418.2"/><line x1="632.96" y1="418.2" x2="637.56" y2="418.2"/><line x1="668.4" y1="416.4" x2="668.4" y2="406.2"/><line x1="666.1" y1="406.2" x2="670.7" y2="406.2"/><line x1="403.3" y1="431.4" x2="403.3" y2="418.8"/><line x1="401" y1="418.8" x2="405.6" y2="418.8"/><line x1="469.57" y1="426.6" x2="469.57" y2="415.2"/><line x1="467.27" y1="415.2" x2="471.88" y2="415.2"/><line x1="535.85" y1="421.5" x2="535.85" y2="408.75"/><line x1="533.55" y1="408.75" x2="538.15" y2="408.75"/><line x1="436.44" y1="373.8" x2="436.44" y2="370.2"/><line x1="434.14" y1="370.2" x2="438.74" y2="370.2"/><line x1="469.57" y1="366.45" x2="469.57" y2="362.7"/><line x1="467.27" y1="362.7" x2="471.88" y2="362.7"/><line x1="502.71" y1="343.8" x2="502.71" y2="339.9"/><line x1="500.41" y1="339.9" x2="505.01" y2="339.9"/><line x1="535.85" y1="349.05" x2="535.85" y2="343.2"/><line x1="533.55" y1="343.2" x2="538.15" y2="343.2"/><line x1="568.99" y1="354.3" x2="568.99" y2="348.3"/><line x1="566.69" y1="348.3" x2="571.29" y2="348.3"/><line x1="602.12" y1="351.45" x2="602.12" y2="348"/><line x1="599.83" y1="348" x2="604.42" y2="348"/><line x1="668.4" y1="346.95" x2="668.4" y2="344.25"/><line x1="666.1" y1="344.25" x2="670.7" y2="344.25"/><line x1="436.44" y1="349.2" x2="436.44" y2="340.2"/><line x1="434.14" y1="340.2" x2="438.74" y2="340.2"/><line x1="469.57" y1="351.45" x2="469.57" y2="343.5"/><line x1="467.27" y1="343.5" x2="471.88" y2="343.5"/><line x1="502.71" y1="386.4" x2="502.71" y2="378.45"/><line x1="500.41" y1="378.45" x2="505.01" y2="378.45"/><line x1="535.85" y1="401.85" x2="535.85" y2="397.35"/><line x1="533.55" y1="397.35" x2="538.15" y2="397.35"/><line x1="568.99" y1="403.95" x2="568.99" y2="393.15"/><line x1="566.69" y1="393.15" x2="571.29" y2="393.15"/><line x1="602.12" y1="414.6" x2="602.12" y2="400.95"/><line x1="599.83" y1="400.95" x2="604.42" y2="400.95"/><line x1="635.26" y1="409.2" x2="635.26" y2="397.05"/><line x1="632.96" y1="397.05" x2="637.56" y2="397.05"/><line x1="668.4" y1="402" x2="668.4" y2="397.05"/><line x1="666.1" y1="397.05" x2="670.7" y2="397.05"/></g>
<polyline fill="none" stroke="#000" stroke-width="1.75" stroke-dasharray="5 5" points="403.3,434.55 436.44,373.8 469.57,366.45 502.71,343.8 535.85,349.05 568.99,354.3 602.12,351.45 635.26,349.05 668.4,346.95"/>
<polyline fill="none" stroke="#000" stroke-width="1.75" stroke-dasharray="5 5" points="403.3,446.55 436.44,349.2 469.57,351.45 502.71,386.4 535.85,401.85 568.99,403.95 602.12,414.6 635.26,409.2 668.4,402"/>
<polyline fill="none" stroke="#000" stroke-width="1.45" points="403.3,433.2 436.44,426.9 469.57,423.3 502.71,416.1 535.85,427.05 568.99,424.05 602.12,427.95 635.26,423.9 668.4,416.4"/>
<polyline fill="none" stroke="#000" stroke-width="1.45" points="403.3,431.4 436.44,439.35 469.57,426.6 502.71,418.95 535.85,421.5 568.99,426.3 602.12,429 635.26,434.25 668.4,426.75"/>
<g fill="#000" stroke="none"><circle cx="403.3" cy="434.55" r="3.1"/><circle cx="436.44" cy="373.8" r="3.1"/><circle cx="469.57" cy="366.45" r="3.1"/><circle cx="502.71" cy="343.8" r="3.1"/><circle cx="535.85" cy="349.05" r="3.1"/><circle cx="568.99" cy="354.3" r="3.1"/><circle cx="602.12" cy="351.45" r="3.1"/><circle cx="635.26" cy="349.05" r="3.1"/><circle cx="668.4" cy="346.95" r="3.1"/></g>
<g fill="#fff" stroke="#000" stroke-width="1"><circle cx="403.3" cy="433.2" r="2.45"/><circle cx="436.44" cy="426.9" r="2.45"/><circle cx="469.57" cy="423.3" r="2.45"/><circle cx="502.71" cy="416.1" r="2.45"/><circle cx="535.85" cy="427.05" r="2.45"/><circle cx="568.99" cy="424.05" r="2.45"/><circle cx="602.12" cy="427.95" r="2.45"/><circle cx="635.26" cy="423.9" r="2.45"/><circle cx="668.4" cy="416.4" r="2.45"/></g>
<g fill="#fff" stroke="#000" stroke-width="1"><rect x="400.65" y="428.75" width="5.3" height="5.3"/><rect x="433.79" y="436.7" width="5.3" height="5.3"/><rect x="466.93" y="423.95" width="5.3" height="5.3"/><rect x="500.06" y="416.3" width="5.3" height="5.3"/><rect x="533.2" y="418.85" width="5.3" height="5.3"/><rect x="566.34" y="423.65" width="5.3" height="5.3"/><rect x="599.48" y="426.35" width="5.3" height="5.3"/><rect x="632.61" y="431.6" width="5.3" height="5.3"/><rect x="665.75" y="424.1" width="5.3" height="5.3"/></g>
<g fill="#000" stroke="#000" stroke-width="0.6"><rect x="400.65" y="443.9" width="5.3" height="5.3"/><rect x="433.79" y="346.55" width="5.3" height="5.3"/><rect x="466.93" y="348.8" width="5.3" height="5.3"/><rect x="500.06" y="383.75" width="5.3" height="5.3"/><rect x="533.2" y="399.2" width="5.3" height="5.3"/><rect x="566.34" y="401.3" width="5.3" height="5.3"/><rect x="599.48" y="411.95" width="5.3" height="5.3"/><rect x="632.61" y="406.55" width="5.3" height="5.3"/><rect x="665.75" y="399.35" width="5.3" height="5.3"/></g>
<g font-family="Liberation Sans, sans-serif" font-size="9.8" font-weight="bold" fill="#111"><text transform="translate(436.2 338.2) scale(0.9 1)" text-anchor="middle">#</text><text transform="translate(439.7 381.8) scale(0.9 1)" text-anchor="middle">#</text><text transform="translate(469 339.7) scale(0.9 1)" text-anchor="middle">#</text><text transform="translate(469 377.9) scale(0.9 1)" text-anchor="middle">#</text><text transform="translate(502.7 335.8) scale(0.9 1)" text-anchor="middle">#</text><text transform="translate(495.6 374.7) scale(0.9 1)" text-anchor="start">#,<tspan dx="-0.3"> </tspan><tspan fill="#333" font-weight="normal" stroke="#333" stroke-width="0.15">$</tspan></text><text transform="translate(536 339.7) scale(0.9 1)" text-anchor="middle">#</text><text transform="translate(536.3 391.5) scale(0.9 1)" text-anchor="middle"><tspan fill="#333" font-weight="normal" stroke="#333" stroke-width="0.15">$</tspan></text><text transform="translate(568.6 345.3) scale(0.9 1)" text-anchor="middle">#</text><text transform="translate(568.8 388) scale(0.9 1)" text-anchor="middle"><tspan fill="#333" font-weight="normal" stroke="#333" stroke-width="0.15">$</tspan></text><text transform="translate(601.7 345) scale(0.9 1)" text-anchor="middle">#</text><text transform="translate(602.3 398.3) scale(0.9 1)" text-anchor="middle"><tspan fill="#333" font-weight="normal" stroke="#333" stroke-width="0.15">$</tspan></text><text transform="translate(635 344.5) scale(0.9 1)" text-anchor="middle">#</text><text transform="translate(634.7 393.9) scale(0.9 1)" text-anchor="middle"><tspan fill="#333" font-weight="normal" stroke="#333" stroke-width="0.15">$</tspan></text><text transform="translate(667.9 342.1) scale(0.9 1)" text-anchor="middle">#</text><text transform="translate(668 392.6) scale(0.9 1)" text-anchor="middle"><tspan fill="#333" font-weight="normal" stroke="#333" stroke-width="0.15">$</tspan></text></g>
<line x1="441.2" y1="264.8" x2="467.1" y2="264.8" stroke="#000" stroke-width="1.45"/><circle cx="453.7" cy="264.8" r="2.45" fill="#fff" stroke="#000" stroke-width="1"/><text font-family="Liberation Sans, sans-serif" font-weight="bold" stroke="#111" stroke-width="0.18" font-size="10.7" word-spacing="0.3" fill="#111" x="469.6" y="268">vehicle</text><line x1="441.2" y1="280.1" x2="446.2" y2="280.1" stroke="#000" stroke-width="1.45"/><line x1="461.6" y1="280.1" x2="467.1" y2="280.1" stroke="#000" stroke-width="1.45"/><circle cx="453.7" cy="280.1" r="3.1" fill="#000"/><text font-family="Liberation Sans, sans-serif" font-weight="bold" stroke="#111" stroke-width="0.18" font-size="10.7" word-spacing="0.3" fill="#111" x="469.6" y="283.3">6 mg/kg oxaliplatin</text><line x1="441.2" y1="295.3" x2="467.1" y2="295.3" stroke="#000" stroke-width="1.45"/><rect x="451.05" y="292.65" width="5.3" height="5.3" fill="#fff" stroke="#000" stroke-width="1"/><text font-family="Liberation Sans, sans-serif" font-weight="bold" stroke="#111" stroke-width="0.18" font-size="10.7" word-spacing="0.3" fill="#111" x="469.6" y="298.5">2 g/kg LEM</text><line x1="441.2" y1="310.5" x2="446.2" y2="310.5" stroke="#000" stroke-width="1.45"/><line x1="461.6" y1="310.5" x2="467.1" y2="310.5" stroke="#000" stroke-width="1.45"/><rect x="451.05" y="307.85" width="5.3" height="5.3" fill="#000" stroke="#000" stroke-width="0.5"/><text font-family="Liberation Sans, sans-serif" font-weight="bold" stroke="#111" stroke-width="0.18" font-size="10.7" word-spacing="0.3" fill="#111" x="469.6" y="313.7">6 mg/kg oxaliplatin + 2 g/kg LEM</text>
</svg>
</body></html>
